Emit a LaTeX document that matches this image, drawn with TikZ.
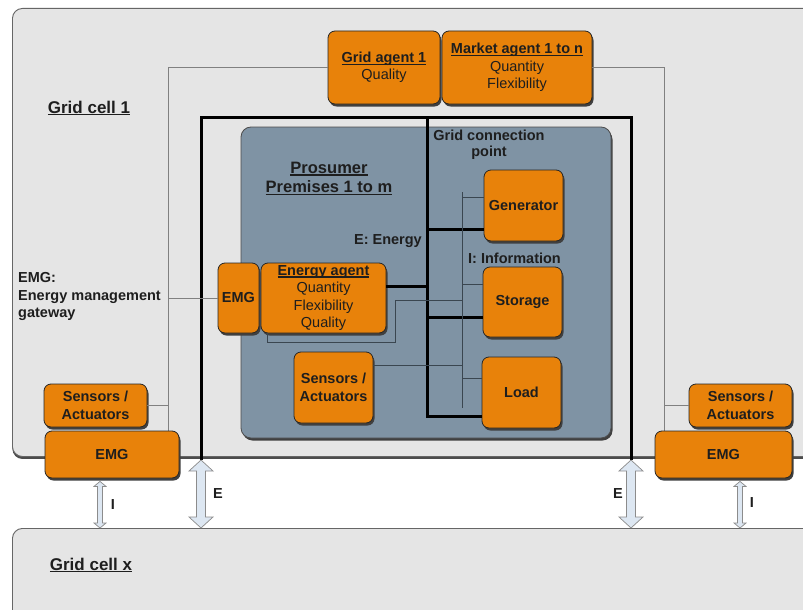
\documentclass[tikz,border=0pt]{standalone}
\usepackage{fontspec}
\setmainfont{Liberation Sans}
\usetikzlibrary{calc,shadows}

\definecolor{cellgray}{HTML}{E5E5E5}
\definecolor{premblue}{HTML}{7F93A4}
\definecolor{agentorange}{HTML}{E8820A}
\definecolor{arrowfill}{HTML}{DDE7F2}
\definecolor{inkdark}{HTML}{1E1E1E}
\definecolor{infoline}{HTML}{3A4650}

% underline at a fixed depth, crossing descenders
\newcommand\uln[1]{\leavevmode\setbox0\hbox{#1}\rlap{\rule[-2.3pt]{\wd0}{1.1pt}}\box0}

% double-headed block arrow between two vertically aligned points
% #1 top, #2 bottom, #3 half head width, #4 half shaft width, #5 head length
\newcommand\cellarrow[5]{%
  \draw[arrowshape] (#1) -- ($(#1)+(#3,#5)$) -- ($(#1)+(#4,#5)$)
    -- ($(#2)+(#4,-#5)$) -- ($(#2)+(#3,-#5)$) -- (#2)
    -- ($(#2)+(-#3,-#5)$) -- ($(#2)+(-#4,-#5)$)
    -- ($(#1)+(-#4,#5)$) -- ($(#1)+(-#3,#5)$) -- cycle;}

\tikzset{
  txt/.style={font=\fontsize{14.5}{17.5}\selectfont, text=inkdark, inner sep=0pt, align=center},
  boldtxt/.style={txt, font=\fontsize{14.5}{17.5}\selectfont\bfseries},
  celllabel/.style={txt, font=\fontsize{17}{20}\selectfont\bfseries},
  cell/.style={draw=black!60, fill=cellgray, line width=0.9pt, rounded corners=10pt,
    inner sep=0pt, drop shadow={shadow xshift=0pt, shadow yshift=-2.5pt, fill=black!70, opacity=1}},
  premises/.style={draw=black!70, fill=premblue, line width=0.8pt, rounded corners=10pt,
    inner sep=0pt, drop shadow={shadow xshift=1.5pt, shadow yshift=-2.5pt, fill=black!75, opacity=1}},
  obox/.style={txt, draw=black!85, fill=agentorange, line width=0.8pt, rounded corners=7pt,
    drop shadow={shadow xshift=1.5pt, shadow yshift=-2.5pt, fill=black!75, opacity=1}},
  energy/.style={draw=black, line width=3pt},
  info/.style={draw=infoline, line width=0.7pt},
  outerinfo/.style={draw=black!50, line width=0.8pt},
  arrowshape/.style={draw=black!45, fill=arrowfill, line width=0.7pt, line join=miter},
}

\begin{document}
\begin{tikzpicture}[x=1pt,y=-1pt]
\clip (0,0) rectangle (803,610);
\fill[white] (0,0) rectangle (803,610);

% grid cells
\node[cell, anchor=north west, minimum width=830, minimum height=448] (cell1) at (12,8) {};
\node[cell, anchor=north west, minimum width=830, minimum height=130] (cellx) at (12,528) {};
\node[celllabel] (cell1lab) at (89,108) {\uln{Grid cell 1}};
\node[celllabel] (cellxlab) at (91,565) {\uln{Grid cell x}};

% agents at the top
\node[obox, minimum width=112, minimum height=73] (ga) at (384,67.5)
  {\textbf{\uln{Grid agent 1}}\\Quality};
\node[obox, minimum width=150, minimum height=73] (ma) at (517,67.5)
  {\textbf{\uln{Market agent 1 to n}}\\Quantity\\Flexibility};

% outer devices
\node[obox, font=\fontsize{14.5}{17.5}\selectfont\bfseries, minimum width=103, minimum height=43] (lsa) at (95.5,405.5) {Sensors /\\Actuators};
\node[obox, font=\fontsize{14.5}{17.5}\selectfont\bfseries, minimum width=103, minimum height=43] (rsa) at (740.5,405.5) {Sensors /\\Actuators};

% information lines outside the premises
\coordinate (busL) at (168,0);
\coordinate (busR) at (664,0);
\coordinate (lemgTop) at (168,431);
\coordinate (remgTop) at (664,431);
\draw[outerinfo] (ga.west) -- (ga.west -| busL) -- (lemgTop);
\draw[outerinfo] (ma.east) -- (ma.east -| busR) -- (remgTop);
\draw[outerinfo] (lsa.east) -- (lsa.east -| busL);
\draw[outerinfo] (rsa.west) -- (rsa.west -| busR);

% energy frame of the grid connection
\coordinate (frameL) at (201,460);
\coordinate (frameR) at (631,460);
\draw[energy] (frameL) -- ++(0,-343) -| (frameR);

% prosumer premises
\node[premises, minimum width=370, minimum height=311] (prem) at (426,282.5) {};
\node[celllabel, font=\fontsize{16.5}{19.5}\selectfont\bfseries] (premlab) at (329,178.5)
  {\uln{Prosumer}\\\uln{Premises 1 to m}};
\node[boldtxt, font=\fontsize{14.5}{16}\selectfont\bfseries] (gcp) at (489,145) {Grid connection\\point};
\node[boldtxt, anchor=east] (elab) at (422,241) {E: Energy};
\node[boldtxt, anchor=west] (ilab) at (468,258) {I: Information};
\node[txt, anchor=west, font=\fontsize{14.5}{17.5}\selectfont\bfseries, align=left] (emglab) at (18,296.5)
  {EMG:\\Energy management\\gateway};

% devices inside the premises
\node[obox, font=\fontsize{14.5}{17.5}\selectfont\bfseries, minimum width=79, minimum height=71] (gen) at (523.5,205.5) {Generator};
\node[obox, font=\fontsize{14.5}{17.5}\selectfont\bfseries, minimum width=79, minimum height=70] (sto) at (522.5,302) {Storage};
\node[obox, font=\fontsize{14.5}{17.5}\selectfont\bfseries, minimum width=79, minimum height=71] (load) at (521.5,392.5) {Load};
\node[obox, font=\fontsize{14.5}{17.5}\selectfont\bfseries, minimum width=79, minimum height=71] (isa) at (333.5,387.5) {Sensors /\\Actuators};
\node[obox, font=\fontsize{14.5}{17.5}\selectfont\bfseries, minimum width=41, minimum height=70] (iemg) at (238.5,298) {EMG};
\node[obox, minimum width=125, minimum height=70] (ea) at (323.5,298)
  {\textbf{\uln{Energy agent}}\\Quantity\\Flexibility\\Quality};

% energy bus
\coordinate (ebTop) at (427,117);
\coordinate (genE) at ([yshift=-23.5pt]gen.west);
\coordinate (stoE) at ([yshift=-15pt]sto.west);
\coordinate (loadE) at ([yshift=-23.5pt]load.west);
\coordinate (eaE) at ([yshift=12pt]ea.east);
\draw[energy] (ebTop) |- (loadE);
\draw[energy] (genE) -- (genE -| ebTop);
\draw[energy] (stoE) -- (stoE -| ebTop);
\draw[energy] (eaE) -- (eaE -| ebTop);

% information bus
\coordinate (ibTop) at (462,192);
\coordinate (ibBot) at (462,408);
\coordinate (genI) at ([yshift=8.5pt]gen.west);
\coordinate (stoI) at ([yshift=18pt]sto.west);
\coordinate (loadI) at ([yshift=14.5pt]load.west);
\coordinate (isaI) at ([yshift=22.5pt]isa.east);
\coordinate (eaI) at ([xshift=7pt]ea.south west);
\draw[info] (ibTop) -- (ibBot);
\draw[info] (genI) -- (genI -| ibTop);
\draw[info] (stoI) -- (stoI -| ibTop);
\draw[info] (loadI) -- (loadI -| ibTop);
\draw[info] (isaI) -- (isaI -| ibTop);
\draw[info] (eaI) -- ++(0,9) -| (395,300) -- (ibTop |- 0,300);
\draw[outerinfo] (iemg.west) -- (iemg.west -| busL);

% outer energy management gateways
\node[obox, font=\fontsize{14.5}{17.5}\selectfont\bfseries, minimum width=134, minimum height=47] (lemg) at (112,454.5) {EMG};
\node[obox, font=\fontsize{14.5}{17.5}\selectfont\bfseries, minimum width=137, minimum height=47] (remg) at (723.5,454.5) {EMG};

% exchange with the neighbouring grid cell
\coordinate (lI) at ([yshift=-3pt]lemg.south -| 100,0);
\coordinate (rI) at ([yshift=-3pt]remg.south -| 740,0);
\cellarrow{lI}{lI |- cellx.north}{6}{2.5}{5}
\cellarrow{frameL}{frameL |- cellx.north}{12}{4.5}{11}
\cellarrow{frameR}{frameR |- cellx.north}{12}{4.5}{11}
\cellarrow{rI}{rI |- cellx.north}{6}{2.5}{5}
\node[boldtxt] (lIlab) at (113,505) {I};
\node[boldtxt] (lElab) at (218,494) {E};
\node[boldtxt] (rElab) at (618,494) {E};
\node[boldtxt] (rIlab) at (752,503) {I};
\end{tikzpicture}
\end{document}
